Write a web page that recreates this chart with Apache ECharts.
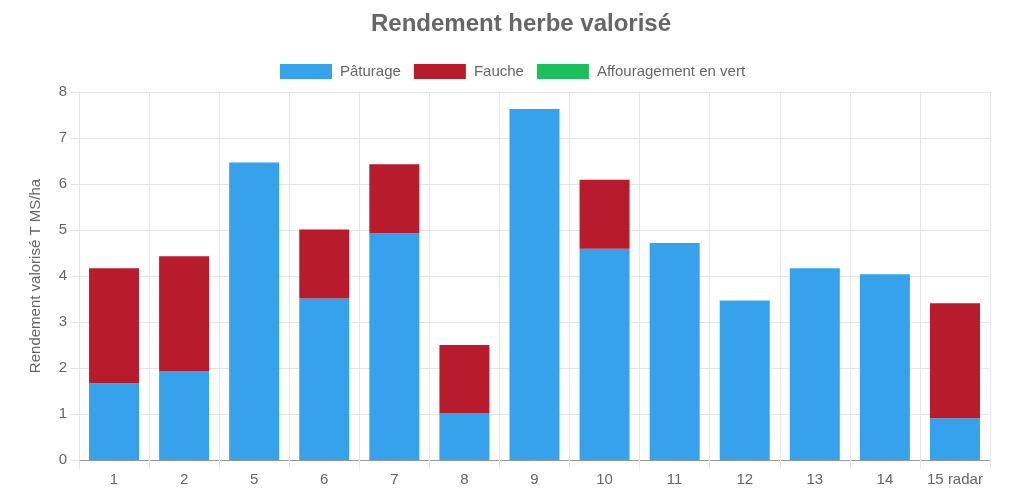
<!DOCTYPE html>
<html>
<head>
<meta charset="utf-8">
<script src="https://cdn.jsdelivr.net/npm/echarts@6/dist/echarts.min.js"></script>
<style>
html,body{margin:0;padding:0;background:#fff;}
#chart{width:1010px;height:489px;}
</style>
</head>
<body>
<div id="chart"></div>
<script>
const categories = ['1', '2', '5', '6', '7', '8', '9', '10', '11', '12', '13', '14', '15 radar'];
const paturage = [1.67, 1.93, 6.47, 3.51, 4.93, 1.01, 7.63, 4.59, 4.72, 3.47, 4.17, 4.04, 0.91];
const fauche = [2.5, 2.5, 0, 1.5, 1.5, 1.49, 0, 1.5, 0, 0, 0, 0, 2.5];
const affouragement = [0, 0, 0, 0, 0, 0, 0, 0, 0, 0, 0, 0, 0];
const yTicks = [0, 1, 2, 3, 4, 5, 6, 7, 8];

const font = '"Liberation Sans", Arial, sans-serif';
const chart = echarts.init(document.getElementById('chart'), null, {renderer: 'canvas'});
chart.setOption({
  animation: false,
  backgroundColor: '#fff',
  title: {
    text: 'Rendement herbe valorisé',
    left: 516, top: 7, textAlign: 'center',
    textStyle: {fontFamily: font, fontSize: 24, fontWeight: 'bold', color: '#666'}
  },
  legend: {
    top: 59, left: 275,
    itemWidth: 52, itemHeight: 15, itemGap: 13,
    icon: 'rect',
    textStyle: {fontFamily: font, fontSize: 15, color: '#666', padding: [0, 0, 0, 3]},
    data: ['Pâturage', 'Fauche', 'Affouragement en vert']
  },
  grid: {left: 79, right: 20, top: 92, bottom: 29, containLabel: false},
  xAxis: {
    type: 'category',
    data: categories,
    boundaryGap: true,
    axisLine: {show: true, lineStyle: {color: '#999', width: 1}},
    axisTick: {show: true, length: 9, alignWithLabel: false, lineStyle: {color: '#e6e6e6'}},
    axisLabel: {fontFamily: font, fontSize: 15, color: '#666', margin: 12, interval: 0},
    splitLine: {show: true, lineStyle: {color: '#e6e6e6', width: 1}}
  },
  yAxis: {
    type: 'value',
    min: yTicks[0], max: yTicks[yTicks.length - 1], interval: 1,
    name: 'Rendement valorisé T MS/ha',
    nameLocation: 'middle', nameGap: 36, nameRotate: 90,
    nameTextStyle: {fontFamily: font, fontSize: 15, color: '#666'},
    axisLine: {show: true, lineStyle: {color: '#e6e6e6'}},
    axisTick: {show: true, length: 9, lineStyle: {color: '#e6e6e6'}},
    axisLabel: {fontFamily: font, fontSize: 15, color: '#666', margin: 12},
    splitLine: {show: true, lineStyle: {color: '#e6e6e6', width: 1}}
  },
  series: [
    {name: 'Pâturage', type: 'bar', stack: 'total', data: paturage, barWidth: 50,
     itemStyle: {color: '#36a2eb'}},
    {name: 'Fauche', type: 'bar', stack: 'total', data: fauche, barWidth: 50,
     itemStyle: {color: '#b71b2c'}},
    {name: 'Affouragement en vert', type: 'bar', stack: 'total', data: affouragement, barWidth: 50,
     itemStyle: {color: '#1bbf5c'}}
  ]
});
</script>
</body>
</html>
